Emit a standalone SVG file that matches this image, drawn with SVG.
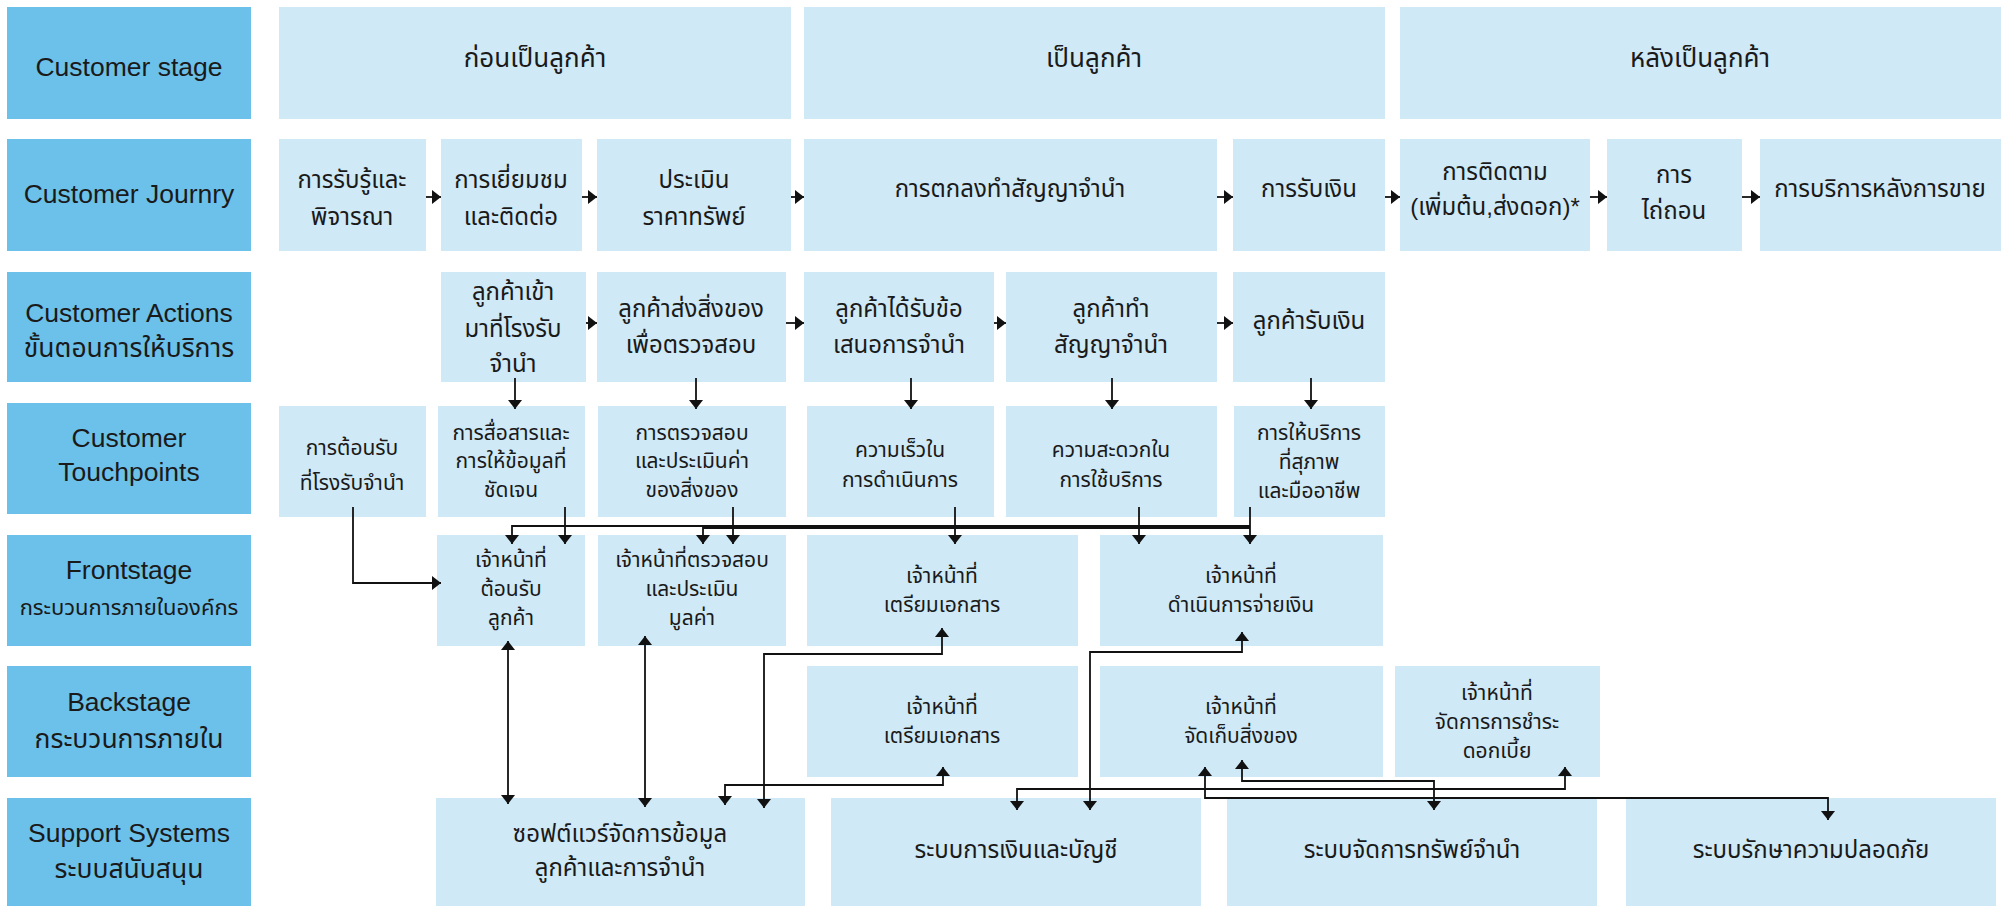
<svg xmlns="http://www.w3.org/2000/svg" width="2005" height="906" viewBox="0 0 2005 906">
<defs>
<style>
.lb{fill:#6cc1ea}
.bx{fill:#cfe9f7}
text{font-family:"Liberation Sans","Noto Sans Thai","Noto Sans Thai UI","Noto Sans",sans-serif;fill:#1a1a1a;text-anchor:middle}
.tl{font-size:26.5px}
.tlt{font-size:22px}
.ts{font-size:26px}
.tj{font-size:24px}
.tt{font-size:21px}
.tp{font-size:24px}
.cn{fill:none;stroke:#111;stroke-width:1.8}
.ar{marker-end:url(#ah)}
.dd{marker-start:url(#ah);marker-end:url(#ah)}
</style>
<marker id="ah" viewBox="0 0 9 14" refX="9" refY="7" markerWidth="9" markerHeight="14" markerUnits="userSpaceOnUse" orient="auto-start-reverse">
<path d="M0,0 L9,7 L0,14 z" fill="#111"/>
</marker>
</defs>
<rect width="2005" height="906" fill="#ffffff"/>

<!-- row labels -->
<g id="lbl-stage"><rect class="lb" x="7" y="7" width="244" height="112"/><text class="tl" x="129" y="76">Customer stage</text></g>
<g id="lbl-journey"><rect class="lb" x="7" y="139" width="244" height="112"/><text class="tl" x="129" y="203">Customer Journry</text></g>
<g id="lbl-actions"><rect class="lb" x="7" y="272" width="244" height="110"/><text class="tl" x="129" y="322">Customer Actions</text><text class="tl" x="129" y="357">ขั้นตอนการให้บริการ</text></g>
<g id="lbl-touch"><rect class="lb" x="7" y="403" width="244" height="111"/><text class="tl" x="129" y="447">Customer</text><text class="tl" x="129" y="481">Touchpoints</text></g>
<g id="lbl-front"><rect class="lb" x="7" y="535" width="244" height="111"/><text class="tl" x="129" y="579">Frontstage</text><text class="tlt" x="129" y="615">กระบวนการภายในองค์กร</text></g>
<g id="lbl-back"><rect class="lb" x="7" y="666" width="244" height="111"/><text class="tl" x="129" y="711">Backstage</text><text class="tl" x="129" y="748">กระบวนการภายใน</text></g>
<g id="lbl-support"><rect class="lb" x="7" y="798" width="244" height="108"/><text class="tl" x="129" y="842">Support Systems</text><text class="tl" x="129" y="878">ระบบสนับสนุน</text></g>

<!-- stage -->
<g id="stage-1"><rect class="bx" x="279" y="7" width="512" height="112"/><text class="ts" x="535" y="67">ก่อนเป็นลูกค้า</text></g>
<g id="stage-2"><rect class="bx" x="804" y="7" width="581" height="112"/><text class="ts" x="1094" y="67">เป็นลูกค้า</text></g>
<g id="stage-3"><rect class="bx" x="1400" y="7" width="601" height="112"/><text class="ts" x="1700" y="67">หลังเป็นลูกค้า</text></g>

<!-- journey -->
<g id="j1"><rect class="bx" x="279" y="139" width="147" height="112"/><text class="tj" x="352" y="188">การรับรู้และ</text><text class="tj" x="352" y="225">พิจารณา</text></g>
<g id="j2"><rect class="bx" x="441" y="139" width="141" height="112"/><text class="tj" x="511" y="188">การเยี่ยมชม</text><text class="tj" x="511" y="225">และติดต่อ</text></g>
<g id="j3"><rect class="bx" x="597" y="139" width="194" height="112"/><text class="tj" x="694" y="188">ประเมิน</text><text class="tj" x="694" y="225">ราคาทรัพย์</text></g>
<g id="j4"><rect class="bx" x="804" y="139" width="413" height="112"/><text class="tj" x="1010" y="197">การตกลงทำสัญญาจำนำ</text></g>
<g id="j5"><rect class="bx" x="1233" y="139" width="152" height="112"/><text class="tj" x="1309" y="197">การรับเงิน</text></g>
<g id="j6"><rect class="bx" x="1400" y="139" width="190" height="112"/><text class="tj" x="1495" y="180">การติดตาม</text><text class="tj" x="1495" y="215">(เพิ่มต้น,ส่งดอก)*</text></g>
<g id="j7"><rect class="bx" x="1607" y="139" width="135" height="112"/><text class="tj" x="1674" y="183">การ</text><text class="tj" x="1674" y="219">ไถ่ถอน</text></g>
<g id="j8"><rect class="bx" x="1760" y="139" width="241" height="112"/><text class="tj" x="1880" y="197">การบริการหลังการขาย</text></g>

<!-- actions -->
<g id="a1"><rect class="bx" x="441" y="272" width="145" height="110"/><text class="tj" x="513" y="300">ลูกค้าเข้า</text><text class="tj" x="513" y="337">มาที่โรงรับ</text><text class="tj" x="513" y="372">จำนำ</text></g>
<g id="a2"><rect class="bx" x="597" y="272" width="189" height="110"/><text class="tj" x="691" y="317">ลูกค้าส่งสิ่งของ</text><text class="tj" x="691" y="353">เพื่อตรวจสอบ</text></g>
<g id="a3"><rect class="bx" x="804" y="272" width="190" height="110"/><text class="tj" x="899" y="317">ลูกค้าได้รับข้อ</text><text class="tj" x="899" y="353">เสนอการจำนำ</text></g>
<g id="a4"><rect class="bx" x="1006" y="272" width="211" height="110"/><text class="tj" x="1111" y="317">ลูกค้าทำ</text><text class="tj" x="1111" y="353">สัญญาจำนำ</text></g>
<g id="a5"><rect class="bx" x="1233" y="272" width="152" height="110"/><text class="tj" x="1309" y="329">ลูกค้ารับเงิน</text></g>

<!-- touchpoints -->
<g id="t1"><rect class="bx" x="279" y="406" width="147" height="111"/><text class="tt" x="352" y="455">การต้อนรับ</text><text class="tt" x="352" y="490">ที่โรงรับจำนำ</text></g>
<g id="t2"><rect class="bx" x="438" y="406" width="147" height="111"/><text class="tt" x="511" y="440">การสื่อสารและ</text><text class="tt" x="511" y="468">การให้ข้อมูลที่</text><text class="tt" x="511" y="497">ชัดเจน</text></g>
<g id="t3"><rect class="bx" x="598" y="406" width="188" height="111"/><text class="tt" x="692" y="440">การตรวจสอบ</text><text class="tt" x="692" y="468">และประเมินค่า</text><text class="tt" x="692" y="497">ของสิ่งของ</text></g>
<g id="t4"><rect class="bx" x="807" y="406" width="187" height="111"/><text class="tt" x="900" y="457">ความเร็วใน</text><text class="tt" x="900" y="487">การดำเนินการ</text></g>
<g id="t5"><rect class="bx" x="1006" y="406" width="211" height="111"/><text class="tt" x="1111" y="457">ความสะดวกใน</text><text class="tt" x="1111" y="487">การใช้บริการ</text></g>
<g id="t6"><rect class="bx" x="1234" y="406" width="151" height="111"/><text class="tt" x="1309" y="440">การให้บริการ</text><text class="tt" x="1309" y="469">ที่สุภาพ</text><text class="tt" x="1309" y="498">และมืออาชีพ</text></g>

<!-- frontstage -->
<g id="f1"><rect class="bx" x="437" y="535" width="148" height="111"/><text class="tt" x="511" y="567">เจ้าหน้าที่</text><text class="tt" x="511" y="596">ต้อนรับ</text><text class="tt" x="511" y="625">ลูกค้า</text></g>
<g id="f2"><rect class="bx" x="598" y="535" width="188" height="111"/><text class="tt" x="692" y="567">เจ้าหน้าที่ตรวจสอบ</text><text class="tt" x="692" y="596">และประเมิน</text><text class="tt" x="692" y="625">มูลค่า</text></g>
<g id="f3"><rect class="bx" x="807" y="535" width="271" height="111"/><text class="tt" x="942" y="583">เจ้าหน้าที่</text><text class="tt" x="942" y="612">เตรียมเอกสาร</text></g>
<g id="f4"><rect class="bx" x="1100" y="535" width="283" height="111"/><text class="tt" x="1241" y="583">เจ้าหน้าที่</text><text class="tt" x="1241" y="612">ดำเนินการจ่ายเงิน</text></g>

<!-- backstage -->
<g id="b1"><rect class="bx" x="807" y="666" width="271" height="111"/><text class="tt" x="942" y="714">เจ้าหน้าที่</text><text class="tt" x="942" y="743">เตรียมเอกสาร</text></g>
<g id="b2"><rect class="bx" x="1100" y="666" width="283" height="111"/><text class="tt" x="1241" y="714">เจ้าหน้าที่</text><text class="tt" x="1241" y="743">จัดเก็บสิ่งของ</text></g>
<g id="b3"><rect class="bx" x="1395" y="666" width="205" height="111"/><text class="tt" x="1497" y="700">เจ้าหน้าที่</text><text class="tt" x="1497" y="729">จัดการการชำระ</text><text class="tt" x="1497" y="758">ดอกเบี้ย</text></g>

<!-- support -->
<g id="s1"><rect class="bx" x="436" y="798" width="369" height="108"/><text class="tp" x="620" y="842">ซอฟต์แวร์จัดการข้อมูล</text><text class="tp" x="620" y="876">ลูกค้าและการจำนำ</text></g>
<g id="s2"><rect class="bx" x="831" y="798" width="370" height="108"/><text class="tp" x="1016" y="858">ระบบการเงินและบัญชี</text></g>
<g id="s3"><rect class="bx" x="1227" y="798" width="370" height="108"/><text class="tp" x="1412" y="858">ระบบจัดการทรัพย์จำนำ</text></g>
<g id="s4"><rect class="bx" x="1626" y="798" width="370" height="108"/><text class="tp" x="1811" y="858">ระบบรักษาความปลอดภัย</text></g>

<!-- connectors -->
<g id="connectors">
<path class="cn ar" d="M426,197 H441"/>
<path class="cn ar" d="M582,197 H597"/>
<path class="cn ar" d="M791,197 H804"/>
<path class="cn ar" d="M1217,197 H1233"/>
<path class="cn ar" d="M1385,197 H1400"/>
<path class="cn ar" d="M1590,197 H1607"/>
<path class="cn ar" d="M1742,197 H1760"/>

<path class="cn ar" d="M586,323 H597"/>
<path class="cn ar" d="M786,323 H804"/>
<path class="cn ar" d="M994,323 H1006"/>
<path class="cn ar" d="M1217,323 H1233"/>

<path class="cn ar" d="M515,378 V409"/>
<path class="cn ar" d="M696,378 V409"/>
<path class="cn ar" d="M911,378 V409"/>
<path class="cn ar" d="M1112,378 V409"/>
<path class="cn ar" d="M1311,378 V409"/>

<path class="cn ar" d="M353,507 V583 H441"/>
<path class="cn ar" d="M565,507 V544"/>
<path class="cn ar" d="M733,507 V544"/>
<path class="cn ar" d="M955,507 V544"/>
<path class="cn ar" d="M1139,507 V544"/>
<path class="cn ar" d="M1250,507 V544"/>
<path class="cn ar" d="M1250,526 H512 V544"/>
<path class="cn ar" d="M1250,528 H703 V544"/>

<path class="cn dd" d="M508,641 V804"/>
<path class="cn dd" d="M645,636 V807"/>
<path class="cn dd" d="M942,628 V654 H764 V808"/>
<path class="cn dd" d="M943,767 V785 H725 V805"/>
<path class="cn dd" d="M1242,632 V652 H1090 V810"/>
<path class="cn dd" d="M1565,767 V789 H1017 V810"/>
<path class="cn dd" d="M1242,760 V781 H1434 V810"/>
<path class="cn dd" d="M1205,767 V798 H1828 V820"/>
</g>
</svg>
